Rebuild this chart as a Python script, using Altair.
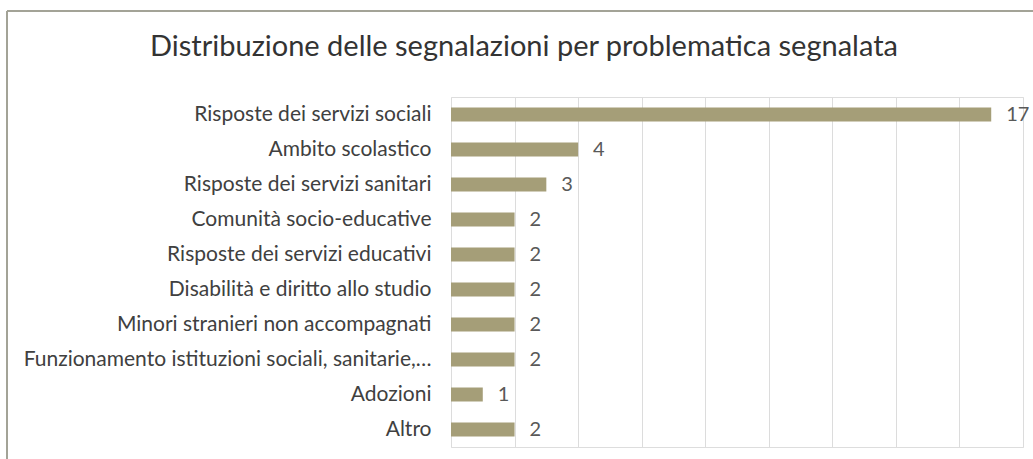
import altair as alt
import pandas as pd

categories = [
    "Risposte dei servizi sociali",
    "Ambito scolastico",
    "Risposte dei servizi sanitari",
    "Comunità socio-educative",
    "Risposte dei servizi educativi",
    "Disabilità e diritto allo studio",
    "Minori stranieri non accompagnati",
    "Funzionamento istituzioni sociali, sanitarie,…",
    "Adozioni",
    "Altro",
]
values = [17, 4, 3, 2, 2, 2, 2, 2, 1, 2]

df = pd.DataFrame({"categoria": categories, "n": values})

FONT = "Lato"

base = alt.Chart(df).encode(
    y=alt.Y(
        "categoria:N",
        sort=categories,
        title=None,
        axis=alt.Axis(
            ticks=False,
            domain=False,
            labelFontSize=21,
            labelColor="#404040",
            labelFont=FONT,
            labelPadding=20,
            labelLimit=500,
        ),
        scale=alt.Scale(paddingInner=0.6, paddingOuter=0.3),
    ),
    x=alt.X(
        "n:Q",
        title=None,
        scale=alt.Scale(domain=[0, 18]),
        axis=alt.Axis(
            values=list(range(0, 19, 2)),
            labels=False,
            ticks=False,
            domain=False,
            grid=True,
            gridColor="#dcdcdc",
            gridWidth=1,
        ),
    ),
)

bars = base.mark_bar(color="#A59E78")
text = base.mark_text(
    align="left", baseline="middle", dx=15, fontSize=20, color="#595959", font=FONT
).encode(text="n:Q")

# decorative chart-area frame (top and left edges)
frame_top = alt.Chart(df).mark_rule(color="#a3a397", strokeWidth=2).encode(
    x=alt.value(-444), x2=alt.value(590), y=alt.value(-86)
)
frame_left = alt.Chart(df).mark_rule(color="#a3a397", strokeWidth=1.5).encode(
    x=alt.value(-444), y=alt.value(-86), y2=alt.value(370)
)

chart = (
    (frame_top + frame_left + bars + text)
    .properties(
        width=572,
        height=350,
        title=alt.TitleParams(
            "Distribuzione delle segnalazioni per problematica segnalata",
            fontSize=29,
            font=FONT,
            fontWeight="normal",
            color="#333333",
            anchor="middle",
            frame="bounds",
            offset=-52,
        ),
        autosize=alt.AutoSizeParams(type="none"),
        padding={"left": 451, "top": 97, "right": 10, "bottom": 12},
    )
    .configure_view(stroke=None)
    .configure(background="white")
)

chart.save("out.html", embed_options={"renderer": "svg", "actions": False})
